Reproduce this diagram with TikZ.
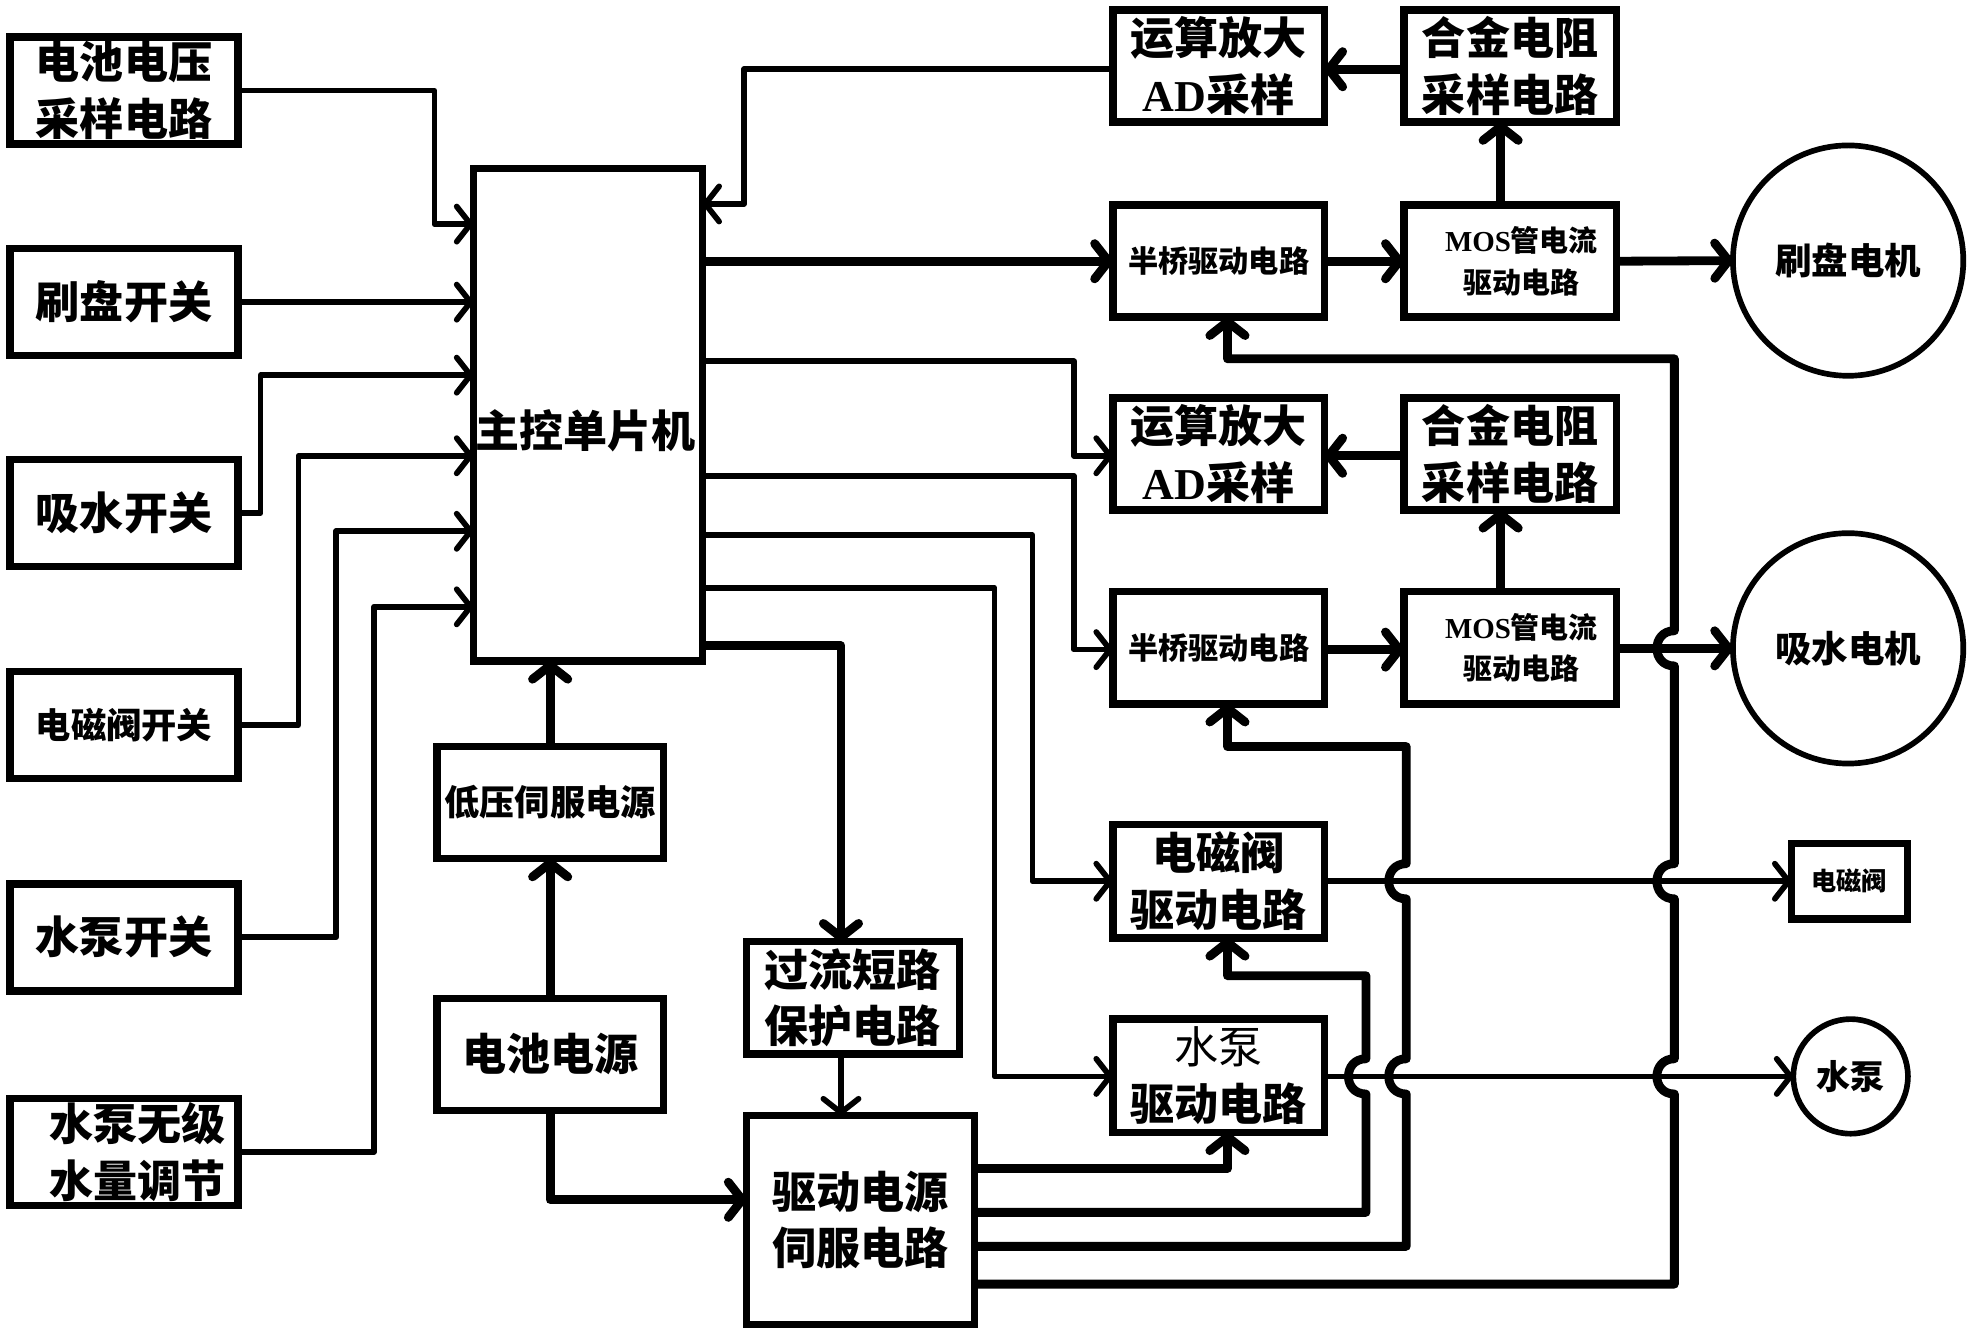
\documentclass[tikz,border=0pt]{standalone}
\usepackage{fontspec}
\setmainfont{Noto Sans CJK SC}
\newfontfamily\lat{Liberation Serif}
\usetikzlibrary{arrows.meta}
\newcommand\myfs[2]{\fontsize{#1}{#2}\selectfont}
\begin{document}
\begin{tikzpicture}[x=1pt,y=-1pt,
  box/.style={draw, line width=6pt, inner sep=0pt, outer sep=0pt, align=center, font=\bfseries\myfs{35}{45}},
  circ/.style={draw, circle, line width=4.5pt, inner sep=0pt, outer sep=0pt, align=center, font=\bfseries\myfs{29}{35}},
  lbl/.style={inner sep=0pt, align=center, font=\bfseries\myfs{35}{45}},
  ln/.style={line width=4.5pt, line join=round},
  pw/.style={line width=7pt, line join=round},
  arr/.style={-{Straight Barb[length=11pt,width=28pt,round]}},
  hop/.style={out=180,in=180,looseness=1.7},
]
\useasboundingbox (0,0) rectangle (1568,1061);

% left column
\node[box, minimum width=181pt, minimum height=85pt] (L1) at (98.5,72) {电池电压\\采样电路};
\node[box, minimum width=181pt, minimum height=85pt] (L2) at (98.5,240) {刷盘开关};
\node[box, minimum width=181pt, minimum height=85pt] (L3) at (98.5,407.5) {吸水开关};
\node[box, minimum width=181pt, minimum height=85pt, font=\bfseries\myfs{28}{34}] (L4) at (98.5,576) {电磁阀开关};
\node[box, minimum width=181pt, minimum height=85pt] (L5) at (98.5,744.5) {水泵开关};
\node[box, minimum width=181pt, minimum height=85pt] (L6) at (98.5,915) {\hspace*{22pt}水泵无级\\\hspace*{22pt}水量调节};

% centre
\node[box, minimum width=182pt, minimum height=391pt] (main) at (467,329.5) {};
\node[lbl] (mainlbl) at (465,342) {主控单片机};
\node[box, minimum width=180pt, minimum height=89pt, font=\bfseries\myfs{28}{34}] (lv) at (437,637.5) {低压伺服电源};
\node[box, minimum width=180pt, minimum height=89pt] (bat) at (437,837.5) {电池电源};
\node[box, minimum width=169pt, minimum height=89pt] (ocp) at (677.5,792.5) {过流短路\\保护电路};
\node[box, minimum width=181pt, minimum height=166pt] (drv) at (683.5,969) {驱动电源\\伺服电路};

% right column
\node[box, minimum width=168pt, minimum height=89pt] (op1) at (968,52.5) {运算放大\\{\lat AD}采样};
\node[box, minimum width=169pt, minimum height=89pt] (res1) at (1199.5,52.5) {合金电阻\\采样电路};
\node[box, minimum width=168pt, minimum height=89pt, font=\bfseries\myfs{24}{30}] (hb1) at (968,207.5) {半桥驱动电路};
\node[box, minimum width=169pt, minimum height=89pt, font=\bfseries\myfs{23}{33}] (mos1) at (1199.5,207.5) {\hspace*{18pt}{\lat MOS}管电流\\\hspace*{18pt}驱动电路};
\node[circ, minimum size=183pt] (m1) at (1468,207) {刷盘电机};

\node[box, minimum width=168pt, minimum height=89pt] (op2) at (968,360.5) {运算放大\\{\lat AD}采样};
\node[box, minimum width=169pt, minimum height=89pt] (res2) at (1199.5,360.5) {合金电阻\\采样电路};
\node[box, minimum width=168pt, minimum height=89pt, font=\bfseries\myfs{24}{30}] (hb2) at (968,514.5) {半桥驱动电路};
\node[box, minimum width=169pt, minimum height=89pt, font=\bfseries\myfs{23}{33}] (mos2) at (1199.5,514.5) {\hspace*{18pt}{\lat MOS}管电流\\\hspace*{18pt}驱动电路};
\node[circ, minimum size=183pt] (m2) at (1468,515) {吸水电机};

\node[box, minimum width=168pt, minimum height=90pt] (evd) at (968,700) {电磁阀\\驱动电路};
\node[box, minimum width=168pt, minimum height=90pt] (pd) at (968,854.5) {{\mdseries 水泵}\\驱动电路};
\node[box, minimum width=92pt, minimum height=60pt, font=\bfseries\myfs{20}{24}] (valve) at (1469,700) {电磁阀};
\node[circ, minimum size=91pt, font=\bfseries\myfs{27}{30}] (pump) at (1470,855) {水泵};

% inputs to main controller
\draw[ln,arr] (L1.east) -| (345,178) -- (main.west |- 0,178);
\draw[ln,arr] (L2.east) -- (main.west |- L2.east);
\draw[ln,arr] (L3.east) -| (207,298) -- (main.west |- 0,298);
\draw[ln,arr] (L4.east) -| (237,362) -- (main.west |- 0,362);
\draw[ln,arr] (L5.east) -| (267,422) -- (main.west |- 0,422);
\draw[ln,arr] (L6.east) -| (297,482) -- (main.west |- 0,482);

% upper channel
\draw[ln,arr] (op1.west |- 0,55) -| (591,162) -- (main.east |- 0,162);
\draw[pw,arr] (main.east |- hb1.west) -- (hb1.west);
\draw[pw,arr] (hb1.east) -- (mos1.west);
\draw[pw,arr] (1192,0 |- mos1.north) -- (1192,0 |- res1.south);
\draw[pw,arr] (res1.west |- 0,55) -- (op1.east |- 0,55);
\draw[pw,arr] (mos1.east) -- (m1.west);

% lower channel
\draw[ln,arr] (main.east |- 0,287) -| (853,362) -- (op2.west |- 0,362);
\draw[pw,arr] (res2.west |- 0,362) -- (op2.east |- 0,362);
\draw[pw,arr] (1192,0 |- mos2.north) -- (1192,0 |- res2.south);
\draw[ln,arr] (main.east |- 0,378) -| (853,516) -- (hb2.west |- 0,516);
\draw[pw,arr] (hb2.east |- 0,516) -- (mos2.west |- 0,516);
\draw[pw,arr] (mos2.east |- m2.west) -- (m2.west);

% valve and pump
\draw[ln,arr] (main.east |- 0,425) -| (820,700) -- (evd.west);
\draw[ln,arr] (main.east |- 0,467) -| (790,855) -- (pd.west |- 0,855);
\draw[ln,arr] (evd.east) -- (valve.west);
\draw[ln,arr] (pd.east |- pump.west) -- (pump.west);

% power
\draw[pw,arr] (main.east |- 0,513) -| (668,0 |- ocp.north);
\draw[ln,arr] (668,0 |- ocp.south) -- (668,0 |- drv.north);
\draw[pw,arr] (437,0 |- lv.north) -- (437,0 |- main.south);
\draw[pw,arr] (bat.north) -- (lv.south);
\draw[pw,arr] (bat.south) |- (drv.west |- 0,953);

% drive power outputs
\draw[pw,arr] (drv.east |- 0,928) -| (975,0 |- pd.south);
\draw[pw,arr] (drv.east |- 0,963) -- (1085,963) -- (1085,869) to[hop] (1085,841)
  -- (1085,775) -| (975,0 |- evd.south);
\draw[pw,arr] (drv.east |- 0,990) -- (1117,990) -- (1117,869) to[hop] (1117,841)
  -- (1117,714) to[hop] (1117,686) -- (1117,593) -| (975,0 |- hb2.south);
\draw[pw,arr] (drv.east |- 0,1020) -- (1330,1020) -- (1330,869) to[hop] (1330,841)
  -- (1330,714) to[hop] (1330,686) -- (1330,529) to[hop] (1330,501)
  -- (1330,285) -| (975,0 |- hb1.south);
\end{tikzpicture}
\end{document}
